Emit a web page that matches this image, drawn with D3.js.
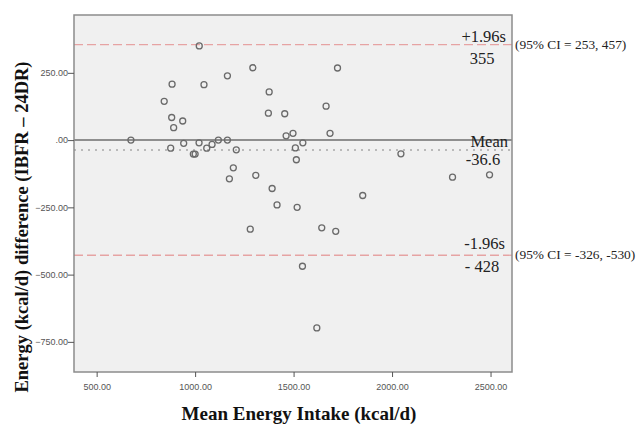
<!DOCTYPE html>
<html>
<head>
<meta charset="utf-8">
<script src="https://cdn.jsdelivr.net/npm/d3@7"></script>
<style>
  body { margin: 0; background: #fff; }
  .tick text { font-family: "Liberation Sans", Arial, sans-serif; fill: #555; }
</style>
</head>
<body>
<script>
// mean energy intake (x) and difference IBFR - 24DR (y)
const meanIntake = [674, 843, 883, 881, 891, 937, 876, 942, 991, 1000, 1020, 1021, 1045, 1059, 1086,
  1118, 1164, 1164, 1209, 1194, 1174, 1293, 1308, 1376, 1372, 1455, 1462, 1497, 1509, 1547,
  1514, 1391, 1416, 1518, 1723, 1665, 1685, 2045, 2307, 2495, 1851, 1280, 1545, 1618, 1643, 1714];
const diff = [0, 144, 208, 84, 46, 71, -30, -12, -52, -52, -10, 350, 206, -30, -16,
  0, 0, 239, -36, -103, -144, 269, -131, 179, 100, 98, 16, 25, -29, -10,
  -73, -180, -241, -250, 268, 126, 25, -51, -138, -129, -206, -331, -469, -698, -326, -339];

const xTicks = [500, 1000, 1500, 2000, 2500];
const yTicks = [250, 0, -250, -500, -750];
const meanDiff = -36.6;
const upperLoA = 355;
const lowerLoA = -428;

const width = 640, height = 425;
const margin = {top: 15, right: 128, bottom: 53, left: 74};

const svg = d3.select("body").append("svg")
  .attr("width", width)
  .attr("height", height);

const x = d3.scaleLinear()
  .domain([385, 2609])
  .range([margin.left, width - margin.right]);

const y = d3.scaleLinear()
  .domain([-862, 465])
  .range([height - margin.bottom, margin.top]);

const fmt = d => d === 0 ? ".00" : d3.format(".2f")(d);

// plot area
svg.append("rect")
  .attr("x", margin.left).attr("y", margin.top)
  .attr("width", width - margin.left - margin.right)
  .attr("height", height - margin.top - margin.bottom)
  .attr("fill", "#f0f0f0");

// reference lines
svg.append("line")
  .attr("x1", margin.left).attr("x2", width - margin.right)
  .attr("y1", y(0)).attr("y2", y(0))
  .attr("stroke", "#6e6e6e").attr("stroke-width", 1.5);

svg.append("line")
  .attr("x1", margin.left).attr("x2", width - margin.right)
  .attr("y1", y(meanDiff)).attr("y2", y(meanDiff))
  .attr("stroke", "#a8a8a8").attr("stroke-width", 1.5)
  .attr("stroke-dasharray", "2,5");

[upperLoA, lowerLoA].forEach(v => {
  svg.append("line")
    .attr("x1", margin.left).attr("x2", width - margin.right)
    .attr("y1", y(v)).attr("y2", y(v))
    .attr("stroke", "#e6a3a3").attr("stroke-width", 1.3)
    .attr("stroke-dasharray", "9,4");
});

// points
svg.append("g")
  .selectAll("circle")
  .data(meanIntake)
  .join("circle")
  .attr("cx", d => x(d))
  .attr("cy", (d, i) => y(diff[i]))
  .attr("r", 3)
  .attr("fill", "none")
  .attr("stroke", "#6a6a6a")
  .attr("stroke-width", 1.3);

// frame
svg.append("rect")
  .attr("x", margin.left).attr("y", margin.top)
  .attr("width", width - margin.left - margin.right)
  .attr("height", height - margin.top - margin.bottom)
  .attr("fill", "none")
  .attr("stroke", "#8c8c8c").attr("stroke-width", 1.5);

// axes
svg.append("g")
  .attr("transform", `translate(0,${height - margin.bottom})`)
  .call(d3.axisBottom(x).tickValues(xTicks).tickFormat(fmt).tickSize(5).tickSizeOuter(0))
  .call(g => g.select(".domain").remove())
  .call(g => g.selectAll(".tick line").attr("stroke", "#555"))
  .call(g => g.selectAll(".tick text").attr("font-size", 9).attr("dy", "1.1em"));

svg.append("g")
  .attr("transform", `translate(${margin.left},0)`)
  .call(d3.axisLeft(y).tickValues(yTicks).tickFormat(fmt).tickSize(6).tickSizeOuter(0))
  .call(g => g.select(".domain").remove())
  .call(g => g.selectAll(".tick line").attr("stroke", "#555"))
  .call(g => g.selectAll(".tick text").attr("font-size", 9).attr("x", -6));

// annotations
const serif = "'Liberation Serif', 'Times New Roman', serif";
const notes = [
  {t: "+1.96s", x: 506, y: y(upperLoA) - 3, a: "end", s: 16.5},
  {t: "355", x: 482, y: y(upperLoA) + 19, a: "middle", s: 16.5},
  {t: "Mean", x: 508, y: y(meanDiff) - 3, a: "end", s: 16.5},
  {t: "-36.6", x: 483, y: y(meanDiff) + 15, a: "middle", s: 16.5},
  {t: "-1.96s", x: 505, y: y(lowerLoA) - 6, a: "end", s: 16.5},
  {t: "- 428", x: 482, y: y(lowerLoA) + 17, a: "middle", s: 16.5},
  {t: "(95% CI = 253, 457)", x: 515, y: y(upperLoA) + 4, a: "start", s: 13.4},
  {t: "(95% CI = -326, -530)", x: 515, y: y(lowerLoA) + 4, a: "start", s: 13.4}
];
svg.append("g")
  .selectAll("text")
  .data(notes)
  .join("text")
  .attr("x", d => d.x).attr("y", d => d.y)
  .attr("text-anchor", d => d.a)
  .attr("font-family", serif)
  .attr("font-size", d => d.s)
  .attr("fill", "#222")
  .text(d => d.t);

// axis titles
svg.append("text")
  .attr("x", 299)
  .attr("y", 420)
  .attr("text-anchor", "middle")
  .attr("font-family", serif)
  .attr("font-weight", "bold")
  .attr("font-size", 19)
  .attr("fill", "#111")
  .text("Mean Energy Intake (kcal/d)");

svg.append("text")
  .attr("transform", `translate(28,227) rotate(-90)`)
  .attr("text-anchor", "middle")
  .attr("font-family", serif)
  .attr("font-weight", "bold")
  .attr("font-size", 18.5)
  .attr("fill", "#111")
  .text("Energy (kcal/d) difference (IBFR – 24DR)");
</script>
</body>
</html>
